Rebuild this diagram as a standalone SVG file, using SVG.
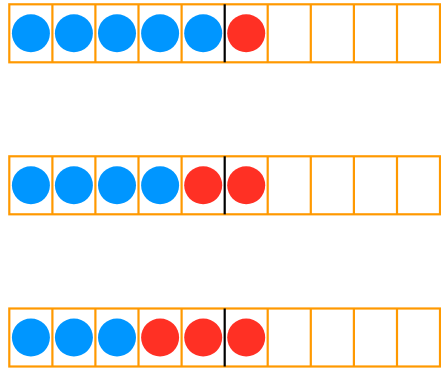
<svg xmlns="http://www.w3.org/2000/svg" width="441" height="370" viewBox="0 0 441 370">
<style>
.frame{fill:#fff;stroke:#FF9900;stroke-width:2.2}
.div{stroke:#FF9900;stroke-width:2.2}
.sep{stroke:#000;stroke-width:2.2}
.b{fill:#0096FF}
.r{fill:#FF3024}
</style>
<defs>
<g id="frame">
<rect class="frame" x="9.3" y="0" width="430.7" height="58"/>
<path class="div" d="M52.4 0V58M95.4 0V58M138.5 0V58M181.6 0V58M267.7 0V58M310.8 0V58M353.9 0V58M397 0V58"/>
<path class="sep" d="M224.7 0V58"/>
</g>
</defs>
<g id="row1" transform="translate(0,4.3)">
<use href="#frame"/>
<circle class="b" cx="30.9" cy="29" r="19"/>
<circle class="b" cx="73.9" cy="29" r="19"/>
<circle class="b" cx="117" cy="29" r="19"/>
<circle class="b" cx="160.1" cy="29" r="19"/>
<circle class="b" cx="203.2" cy="29" r="19"/>
<circle class="r" cx="246.2" cy="29" r="19"/>
</g>
<g id="row2" transform="translate(0,156.3)">
<use href="#frame"/>
<circle class="b" cx="30.9" cy="29" r="19"/>
<circle class="b" cx="73.9" cy="29" r="19"/>
<circle class="b" cx="117" cy="29" r="19"/>
<circle class="b" cx="160.1" cy="29" r="19"/>
<circle class="r" cx="203.2" cy="29" r="19"/>
<circle class="r" cx="246.2" cy="29" r="19"/>
</g>
<g id="row3" transform="translate(0,308.5)">
<use href="#frame"/>
<circle class="b" cx="30.9" cy="29" r="19"/>
<circle class="b" cx="73.9" cy="29" r="19"/>
<circle class="b" cx="117" cy="29" r="19"/>
<circle class="r" cx="160.1" cy="29" r="19"/>
<circle class="r" cx="203.2" cy="29" r="19"/>
<circle class="r" cx="246.2" cy="29" r="19"/>
</g>
</svg>
